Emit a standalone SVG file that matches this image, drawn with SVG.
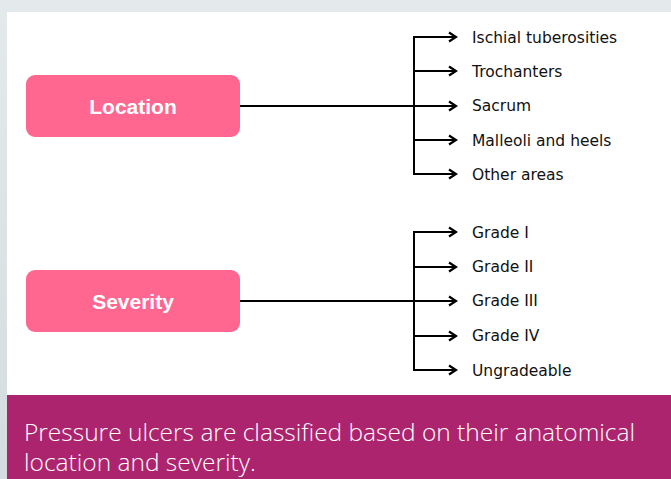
<svg xmlns="http://www.w3.org/2000/svg" width="671" height="479" viewBox="0 0 671 479">
<defs>
<linearGradient id="bg" x1="0" y1="0" x2="0" y2="1">
<stop offset="0" stop-color="#e4eaec"/><stop offset="1" stop-color="#d3dcdf"/>
</linearGradient>
<marker id="ah" markerWidth="12" markerHeight="12" refX="10" refY="6" orient="auto" markerUnits="userSpaceOnUse">
<path d="M3,1.5 L10,6 L3,10.5" fill="none" stroke="#000" stroke-width="2.2"/>
</marker>
<style>
.box{fill:#ff6690}
.bt{font-family:"Liberation Sans",Arial,sans-serif;font-size:21px;fill:#fff;text-anchor:middle;font-weight:bold}
.lbl{font-family:"DejaVu Sans",Verdana,sans-serif;font-size:15.5px;fill:#111}
.ln{fill:none;stroke:#000;stroke-width:2}
.arr{fill:none;stroke:#000;stroke-width:2;marker-end:url(#ah)}
.cap{font-family:"Open Sans","Noto Sans",sans-serif;font-size:24.5px;fill:#fff;font-weight:300}
</style>
</defs>
<rect x="0" y="0" width="671" height="479" fill="url(#bg)"/>
<rect x="7" y="12" width="664" height="384" fill="#fff"/>
<rect x="7" y="395" width="664" height="84" fill="#ad246e"/>
<g id="location">
<rect class="box" x="26" y="75" width="214" height="62" rx="9"/>
<text class="bt" x="133" y="114">Location</text>
</g>
<g id="severity">
<rect class="box" x="26" y="270" width="214" height="62" rx="9"/>
<text class="bt" x="133" y="309">Severity</text>
</g>
<g id="connectors">
<line class="ln" x1="240" y1="106" x2="414" y2="106"/>
<line class="ln" x1="414" y1="37" x2="414" y2="174"/>
<line class="arr" x1="413" y1="37" x2="456" y2="37"/>
<line class="arr" x1="413" y1="71" x2="456" y2="71"/>
<line class="arr" x1="413" y1="106" x2="456" y2="106"/>
<line class="arr" x1="413" y1="140" x2="456" y2="140"/>
<line class="arr" x1="413" y1="174" x2="456" y2="174"/>
<line class="ln" x1="240" y1="301" x2="414" y2="301"/>
<line class="ln" x1="414" y1="232" x2="414" y2="370"/>
<line class="arr" x1="413" y1="232" x2="456" y2="232"/>
<line class="arr" x1="413" y1="267" x2="456" y2="267"/>
<line class="arr" x1="413" y1="301" x2="456" y2="301"/>
<line class="arr" x1="413" y1="336" x2="456" y2="336"/>
<line class="arr" x1="413" y1="370" x2="456" y2="370"/>
</g>
<g id="loc-items">
<text class="lbl" x="472" y="43">Ischial tuberosities</text>
<text class="lbl" x="472" y="77">Trochanters</text>
<text class="lbl" x="472" y="111">Sacrum</text>
<text class="lbl" x="472" y="146">Malleoli and heels</text>
<text class="lbl" x="472" y="180">Other areas</text>
</g>
<g id="sev-items">
<text class="lbl" x="472" y="238">Grade I</text>
<text class="lbl" x="472" y="272">Grade II</text>
<text class="lbl" x="472" y="306">Grade III</text>
<text class="lbl" x="472" y="341">Grade IV</text>
<text class="lbl" x="472" y="376">Ungradeable</text>
</g>
<g id="caption">
<text class="cap" x="24" y="441">Pressure ulcers are classified based on their anatomical</text>
<text class="cap" x="24" y="471">location and severity.</text>
</g>
</svg>
